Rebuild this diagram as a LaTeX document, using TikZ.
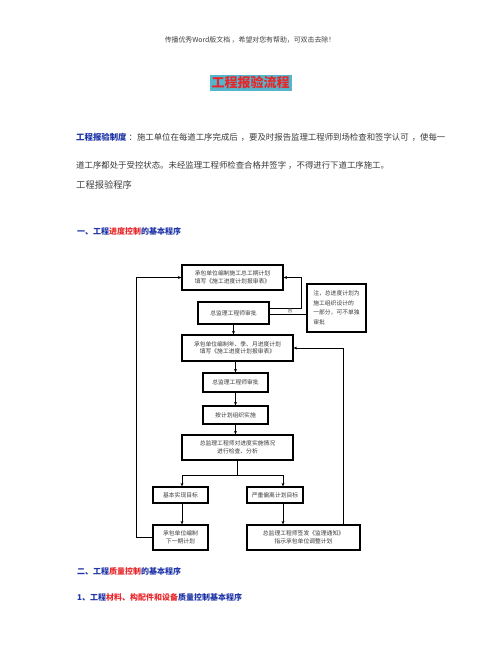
\documentclass[tikz,border=0pt]{standalone}
\usepackage{fontspec}
\newfontfamily\cjk{Noto Sans CJK SC}
\usetikzlibrary{arrows.meta}
\definecolor{hblue}{HTML}{1F35A8}
\definecolor{hred}{HTML}{E8262A}
\definecolor{ttl}{HTML}{55B5CC}
\definecolor{txt}{HTML}{3A3A3A}
\tikzset{
  box/.style={draw=black, line width=1.3pt, fill=white, inner sep=1pt, align=center, font=\cjk\fontsize{5.8}{7.5}\selectfont, text=txt},
  notebox/.style={box, line width=2pt, align=left, font=\cjk\fontsize{5.8}{9.5}\selectfont},
  arr/.style={line width=0.8pt, -{Stealth[length=3.5pt,width=3pt]}},
  ln/.style={line width=0.8pt},
  para/.style={anchor=west, inner sep=0pt, font=\cjk\fontsize{8.4}{10}\selectfont, text=txt},
  head/.style={anchor=west, inner sep=0pt, font=\cjk\bfseries\fontsize{8}{10}\selectfont, text=hblue}
}
\begin{document}
\begin{tikzpicture}[x=1pt,y=-1pt]
\useasboundingbox (0,0) rectangle (500,658);
\fill[white] (0,0) rectangle (500,658);
% header
\node[inner sep=0pt, font=\cjk\fontsize{6.9}{8}\selectfont, text=black!75] (hdr) at (250,40) {传播优秀Word版文档 ，希望对您有帮助，可双击去除！};
% title
\node[fill=ttl, inner xsep=2pt, inner ysep=2pt, font=\cjk\bfseries\fontsize{13}{15}\selectfont, text=hred] (title) at (250.5,83) {工程报验流程};
% paragraph
\node[para] (p1) at (76,137) {{\bfseries\color{hblue}工程报验制度}\hspace{2pt}：施工单位在每道工序完成后\hspace{3pt}，要及时报告监理工程师到场检查和签字认可\hspace{3pt}，使每一};
\node[para] (p2) at (76,165) {道工序都处于受控状态。未经监理工程师检查合格并签字\hspace{2pt}，不得进行下道工序施工。};
\node[para, font=\cjk\fontsize{9.3}{11}\selectfont, text=black!75] (p3) at (76,185) {工程报验程序};
\node[head] (h1) at (77,231) {一、工程{\color{hred}进度控制}的基本程序};
% boxes
\node[box, minimum width=101, minimum height=25] (b1) at (232.5,277.5) {承包单位编制施工总工期计划\\填写《施工进度计划报审表》};
\node[box, minimum width=71, minimum height=22] (b2) at (233.5,313) {总监理工程师审批};
\node[notebox, minimum width=59, minimum height=48] (nt) at (336.5,308) {注，总进度计划为\\施工组织设计的\\一部分，可不单独\\审批};
\node[box, minimum width=111, minimum height=26] (b3) at (237.5,348) {承包单位编制年、季、月进度计划\\填写《施工进度计划报审表》};
\node[box, minimum width=65, minimum height=19] (b4) at (235.5,382.5) {总监理工程师审批};
\node[box, minimum width=65, minimum height=18] (b5) at (235.5,415) {按计划组织实施};
\node[box, minimum width=111, minimum height=25] (b6) at (237.5,447.5) {总监理工程师对进度实施情况\\进行检查、分析};
\node[box, minimum width=55, minimum height=16] (b7) at (180.5,495) {基本实现目标};
\node[box, minimum width=56, minimum height=16] (b8) at (275,495) {严重偏离计划目标};
\node[box, minimum width=55, minimum height=25] (b9) at (180.5,537.5) {承包单位编制\\下一期计划};
\node[box, minimum width=113, minimum height=25] (b10) at (303.5,537.5) {总监理工程师签发《监理通知》\\指示承包单位调整计划};
% connectors
\draw[arr] (b2.south) -- (b2.south |- b3.north);
\draw[arr] (b4.north |- b3.south) -- (b4.north);
\draw[arr] (b4.south) -- (b5.north);
\draw[arr] (b5.south) -- (b5.south |- b6.north);
\coordinate (sp) at (237.5,475);
\draw[ln] (b6.south) -- (sp);
\draw[arr] (sp) -| ([xshift=1.5pt]b7.north);
\draw[arr] (sp) -| ([xshift=8pt]b8.north);
\draw[arr] ([xshift=1.5pt]b7.south) -- ([xshift=1.5pt]b9.north);
\draw[arr] ([xshift=8pt]b8.south) -- ([xshift=8pt]b8.south |- b10.north);
\draw[arr] (b9.west) -- ++(-16,0) |- (b1.west);
\draw[arr] ([xshift=39.5pt]b10.north) |- (b3.east);
\draw[arr] ([yshift=5pt]b2.east) -- ++(32,0) |- (b1.east);
\draw[ln] ([yshift=-1pt]b2.east) -- ([yshift=-1pt]b2.east -| nt.west);
\node[inner sep=0pt, font=\cjk\fontsize{5}{6}\selectfont, text=txt] (no) at (290,311) {否};
% section headings
\node[head] (h2) at (77,571) {二、工程{\color{hred}质量控制}的基本程序};
\node[head] (h3) at (77,597) {1、工程{\color{hred}材料、构配件和设备}质量控制基本程序};
\end{tikzpicture}
\end{document}
